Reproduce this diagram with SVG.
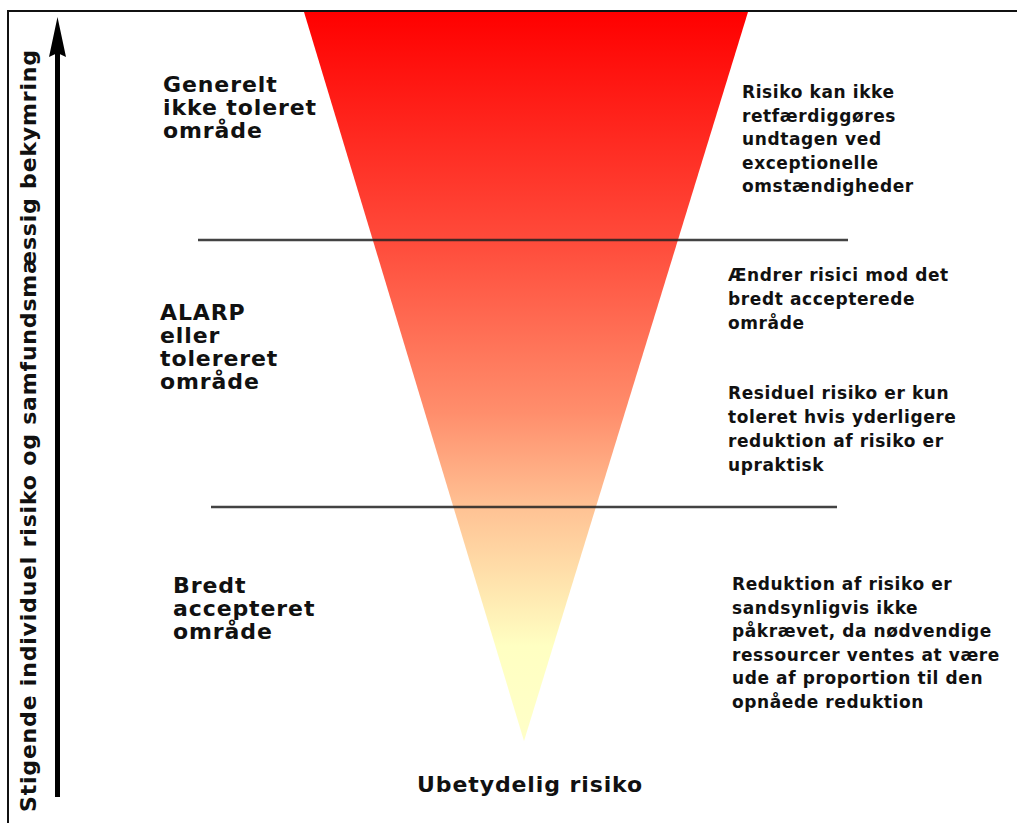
<svg xmlns="http://www.w3.org/2000/svg" width="1017" height="823" viewBox="0 0 1017 823">
<style>
.lbl{font-family:"DejaVu Sans",Verdana,sans-serif;font-weight:bold;fill:#111;}
.big{font-size:22px;letter-spacing:0.9px;}
.sm{font-size:17px;letter-spacing:0.6px;}
.sep{stroke:#222;stroke-opacity:0.85;stroke-width:2.5;}
</style>
<defs>
<linearGradient id="g" x1="0" y1="12" x2="0" y2="741" gradientUnits="userSpaceOnUse">
<stop offset="0" stop-color="#ff0000"/>
<stop offset="0.31" stop-color="#ff4a3a"/>
<stop offset="0.55" stop-color="#ff8e6c"/>
<stop offset="0.68" stop-color="#ffc294"/>
<stop offset="0.87" stop-color="#ffffc2"/>
<stop offset="1" stop-color="#ffffc8"/>
</linearGradient>
</defs>
<rect width="1017" height="823" fill="#fff"/>
<path d="M8 823 V11 H1017" fill="none" stroke="#111" stroke-width="2"/>
<g id="triangle"><polygon points="304,12 748,12 524,741" fill="url(#g)"/></g>
<g id="connectors">
<line class="sep" x1="198" y1="240" x2="848" y2="240"/>
<line class="sep" x1="211" y1="507" x2="837" y2="507"/>
<line x1="57.5" y1="797" x2="57.5" y2="50" stroke="#000" stroke-width="5"/>
<polygon points="57.5,17 49,57 57.5,53 66,57" fill="#000"/>
</g>
<g id="axis-label"><text class="lbl" x="36" y="812" font-size="22" transform="rotate(-90 36 812)" textLength="762" lengthAdjust="spacing">Stigende individuel risiko og samfundsmæssig bekymring</text></g>
<g id="zone-top"><text class="lbl big" x="163"><tspan x="163" y="92">Generelt</tspan><tspan x="163" y="115">ikke toleret</tspan><tspan x="163" y="138">område</tspan></text></g>
<g id="zone-alarp"><text class="lbl big"><tspan x="160" y="320">ALARP</tspan><tspan x="160" y="343">eller</tspan><tspan x="160" y="366">tolereret</tspan><tspan x="160" y="389">område</tspan></text></g>
<g id="zone-bottom"><text class="lbl big"><tspan x="173" y="593">Bredt</tspan><tspan x="173" y="616">accepteret</tspan><tspan x="173" y="639">område</tspan></text></g>
<g id="desc-top"><text class="lbl sm"><tspan x="742" y="98">Risiko kan ikke</tspan><tspan x="742" y="121.5">retfærdiggøres</tspan><tspan x="742" y="145">undtagen ved</tspan><tspan x="742" y="168.5">exceptionelle</tspan><tspan x="742" y="192">omstændigheder</tspan></text></g>
<g id="desc-alarp1"><text class="lbl sm"><tspan x="728" y="281">Ændrer risici mod det</tspan><tspan x="728" y="305">bredt accepterede</tspan><tspan x="728" y="329">område</tspan></text></g>
<g id="desc-alarp2"><text class="lbl sm"><tspan x="728" y="399">Residuel risiko er kun</tspan><tspan x="728" y="423">toleret hvis yderligere</tspan><tspan x="728" y="447">reduktion af risiko er</tspan><tspan x="728" y="471">upraktisk</tspan></text></g>
<g id="desc-bottom"><text class="lbl sm"><tspan x="732" y="590">Reduktion af risiko er</tspan><tspan x="732" y="613.5">sandsynligvis ikke</tspan><tspan x="732" y="637">påkrævet, da nødvendige</tspan><tspan x="732" y="660.5">ressourcer ventes at være</tspan><tspan x="732" y="684">ude af proportion til den</tspan><tspan x="732" y="707.5">opnåede reduktion</tspan></text></g>
<g id="bottom-label"><text class="lbl big" x="417" y="792">Ubetydelig risiko</text></g>
</svg>
